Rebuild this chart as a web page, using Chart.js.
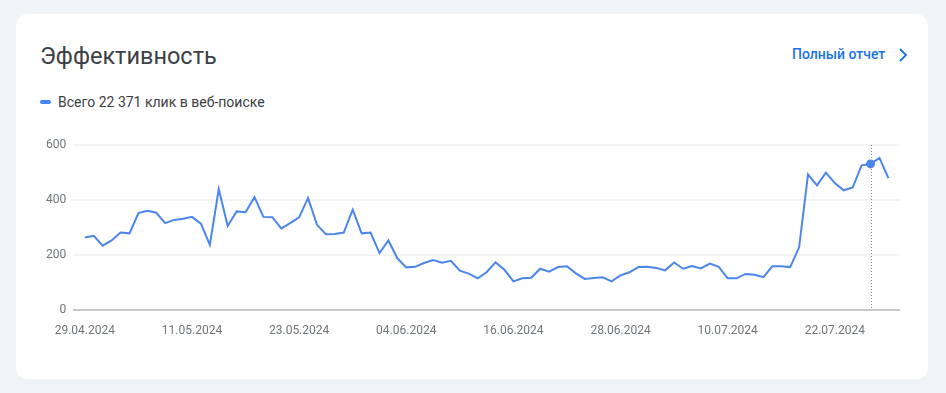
<!DOCTYPE html>
<html>
<head>
<meta charset="utf-8">
<script src="https://cdn.jsdelivr.net/npm/chart.js@4/dist/chart.umd.min.js"></script>
<style>
  body { margin: 0; background: #f0f3f8; width: 946px; height: 393px; overflow: hidden; font-family: Roboto, sans-serif; }
  .card { position: absolute; left: 16px; top: 14px; width: 912px; height: 365px; background: #fff; border-radius: 12px; }
  .title { position: absolute; left: 24px; top: 28px; font-size: 23.5px; color: #3c4043; }
  .report { position: absolute; left: 776px; top: 32px; font-size: 14px; font-weight: 500; color: #1a73e8; }
  .chev { position: absolute; left: 881px; top: 33px; }
  .legend { position: absolute; left: 24px; top: 80px; font-size: 14px; color: #3c4043; }
  .legend i { display: inline-block; width: 11px; height: 4px; border-radius: 2px; background: #4285f4; vertical-align: middle; margin-right: 7px; position: relative; top: -1px; }
  .wrap { position: absolute; left: 0; top: 116px; width: 912px; height: 230px; }
</style>
</head>
<body>
<div class="card">
  <div class="title">Эффективность</div>
  <div class="report">Полный отчет</div>
  <svg class="chev" width="12" height="16" viewBox="0 0 12 16"><path d="M3 2 L9 8 L3 14" fill="none" stroke="#1a73e8" stroke-width="1.8"/></svg>
  <div class="legend"><i></i>Всего 22 371 клик в веб-поиске</div>
  <div class="wrap"><canvas id="myChart"></canvas></div>
</div>
<script>
// клики по дням, с 29.04.2024 по 28.07.2024
const clicks = [
  263, 269, 233, 252, 281, 278, 352, 360, 353, 315,
  327, 331, 338, 313, 236, 439, 305, 358, 355, 410,
  338, 337, 296, 315, 336, 407, 309, 275, 276, 281,
  364, 278, 281, 206, 252, 187, 154, 156, 170, 181,
  171, 178, 142, 131, 114, 136, 172, 145, 103, 114,
  116, 149, 138, 155, 158, 132, 112, 115, 118, 103,
  125, 136, 155, 156, 152, 143, 172, 149, 159, 150,
  168, 156, 114, 114, 130, 127, 118, 158, 158, 155,
  227, 493, 453, 499, 461, 435, 445, 526, 531, 553,
  479
];
const tickLabels = ['29.04.2024', '11.05.2024', '23.05.2024', '04.06.2024', '16.06.2024', '28.06.2024', '10.07.2024', '22.07.2024'];
const yTicks = [0, 200, 400, 600];
const startDate = new Date(2024, 3, 29);
const hoverIndex = 88;

const dates = clicks.map((_, i) => {
      const d = new Date(startDate);
      d.setDate(d.getDate() + i);
      return d.toLocaleDateString('ru-RU');
});

/* вертикальная пунктирная линия на выбранной точке */
const hoverLine = {
      id: 'hoverLine',
      afterDatasetsDraw(chart) {
            const x = chart.scales.x.getPixelForValue(hoverIndex);
            const area = chart.chartArea;
            const ctx = chart.ctx;
            ctx.save();
            ctx.strokeStyle = '#80868b';
            ctx.lineWidth = 1;
            ctx.setLineDash([1, 2]);
            ctx.beginPath();
            ctx.moveTo(Math.round(x) + 0.5, area.top);
            ctx.lineTo(Math.round(x) + 0.5, area.bottom);
            ctx.stroke();
            ctx.restore();
      }
};

const chart = new Chart(document.getElementById('myChart'), {
      type: 'line',
      data: {
            datasets: [{
                  label: 'Клики',
                  data: clicks.map((v, i) => ({ x: i, y: v })),
                  borderColor: '#4a86ec',
                  borderWidth: 2,
                  fill: false,
                  tension: 0,
                  pointRadius: clicks.map((_, i) => i === hoverIndex ? 4.5 : 0),
                  pointBackgroundColor: '#4a86ec',
                  pointBorderWidth: 0
            }]
      },
      options: {
            responsive: true,
            maintainAspectRatio: false,
            animation: false,
            layout: { padding: { left: 23, right: 28, top: 15, bottom: 8 } },
            plugins: { legend: { display: false }, tooltip: { enabled: false } },
            scales: {
                  x: {
                        type: 'linear',
                        min: -1.3,
                        max: 91.3,
                        afterBuildTicks: (scale) => {
                              scale.ticks = tickLabels.map((_, i) => ({ value: i * 12 }));
                        },
                        ticks: {
                              callback: (v) => tickLabels[Math.round(v / 12)],
                              color: '#70757a',
                              font: { family: 'Roboto', size: 12 },
                              padding: 14,
                              maxRotation: 0,
                              autoSkip: false
                        },
                        grid: { display: false, drawTicks: false },
                        border: { display: false }
                  },
                  y: {
                        min: 0,
                        max: 600,
                        afterBuildTicks: (scale) => {
                              scale.ticks = yTicks.map(v => ({ value: v }));
                        },
                        ticks: {
                              color: '#70757a',
                              font: { family: 'Roboto', size: 12 },
                              padding: 7
                        },
                        grid: {
                              drawTicks: false,
                              lineWidth: 2,
                              color: (ctx) => ctx.tick && ctx.tick.value === 0 ? '#c8c8c8' : '#f3f3f3'
                        },
                        border: { display: false }
                  }
            }
      },
      plugins: [hoverLine]
});
</script>
</body>
</html>
